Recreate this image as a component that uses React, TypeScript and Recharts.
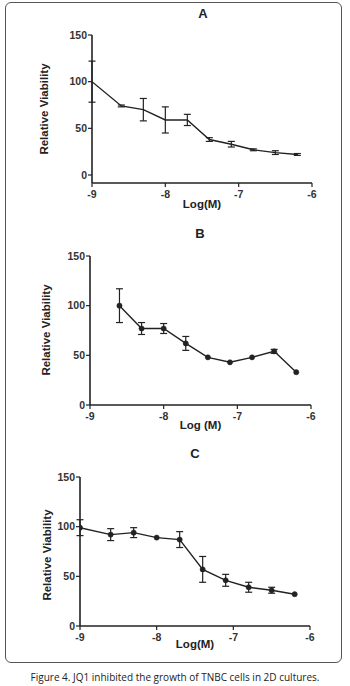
import { LineChart, Line, XAxis, YAxis, ErrorBar } from 'recharts'

// doses on log scale, viability means and error (SD)
const X_TICKS = [-9, -8, -7, -6]
const Y_TICKS = [0, 50, 100, 150]

const DOSE_A = [-9, -8.6, -8.3, -8, -7.7, -7.4, -7.1, -6.8, -6.5, -6.2]
const MEAN_A = [100, 74, 70, 59, 59, 38, 33, 27, 24, 22]
const SD_A = [22, 1, 12, 14, 6, 2, 3, 1, 2, 1]

const DOSE_B = [-8.6, -8.3, -8, -7.7, -7.4, -7.1, -6.8, -6.5, -6.2]
const MEAN_B = [100, 77, 77, 62, 48, 43, 48, 54, 33]
const SD_B = [17, 6, 5, 7, 0, 0, 0, 2, 0]

const DOSE_C = [-9, -8.6, -8.3, -8, -7.7, -7.4, -7.1, -6.8, -6.5, -6.2]
const MEAN_C = [99, 92, 94, 89, 87, 57, 46, 39, 36, 32]
const SD_C = [8, 6, 5, 0, 8, 13, 6, 5, 3, 0]

const FONT = '"Liberation Sans", Arial, Helvetica, sans-serif'
const INK = '#222'

const rows = (dose: number[], mean: number[], sd: number[]) =>
  dose.map((d, i) => ({ dose: d, mean: mean[i], sd: sd[i] }))

interface PanelProps {
  title: string
  titleX: number
  data: { dose: number; mean: number; sd: number }[]
  top: number
  height: number
  left: number
  right: number
  plotTop: number
  plotBottom: number
  yMin: number
  xLabel: string
  xLabelX: number
  dots: boolean
}

function Panel(p: PanelProps) {
  const W = 350
  return (
    <div style={{ position: 'absolute', left: 0, top: p.top, width: W, height: p.height }}>
      <div
        style={{
          position: 'absolute',
          left: p.titleX - 20,
          width: 40,
          top: 6,
          textAlign: 'center',
          fontFamily: FONT,
          fontWeight: 700,
          fontSize: 13,
          color: INK,
          lineHeight: '16px',
        }}
      >
        {p.title}
      </div>
      <LineChart
        width={W}
        height={p.height}
        data={p.data}
        margin={{ top: p.plotTop, right: W - p.right, left: 0, bottom: 0 }}
      >
        <XAxis
          dataKey="dose"
          type="number"
          domain={[-9, -6]}
          ticks={X_TICKS}
          interval={0}
          allowDataOverflow
          height={p.height - p.plotBottom}
          axisLine={{ stroke: INK, strokeWidth: 1.6 }}
          tickLine={{ stroke: INK, strokeWidth: 1.2 }}
          tickSize={4}
          tickMargin={4}
          tick={{ fontSize: 10.5, fontWeight: 700, fill: '#333', fontFamily: FONT }}
          label={
            <text
              x={p.xLabelX}
              y={214}
              textAnchor="middle"
              dominantBaseline="central"
              fontFamily={FONT}
              fontWeight={700}
              fontSize={11.5}
              fill={INK}
            >
              {p.xLabel}
            </text>
          }
        />
        <YAxis
          type="number"
          domain={[p.yMin, 150]}
          ticks={Y_TICKS}
          interval={0}
          allowDataOverflow
          width={p.left}
          axisLine={{ stroke: INK, strokeWidth: 1.6 }}
          tickLine={{ stroke: INK, strokeWidth: 1.2 }}
          tickSize={4}
          tickMargin={1}
          tick={{ fontSize: 10.5, fontWeight: 700, fill: '#333', fontFamily: FONT }}
          label={
            <text
              x={45}
              y={110}
              transform="rotate(-90 45 110)"
              textAnchor="middle"
              dominantBaseline="central"
              fontFamily={FONT}
              fontWeight={700}
              fontSize={11.5}
              fill={INK}
            >
              Relative Viability
            </text>
          }
        />
        <Line
          type="linear"
          dataKey="mean"
          stroke={INK}
          strokeWidth={1.4}
          dot={p.dots ? { r: 2.6, fill: INK, stroke: INK, strokeWidth: 0.5 } : false}
          isAnimationActive={false}
        >
          <ErrorBar dataKey="sd" direction="y" width={3.5} stroke={INK} strokeWidth={1.2} />
        </Line>
      </LineChart>
    </div>
  )
}

export default function App() {
  return (
    <div style={{ position: 'relative', width: 350, height: 686, background: '#fff', overflow: 'hidden' }}>
      <style>{'body{margin:0}'}</style>
      <div
        style={{
          position: 'absolute',
          left: 5,
          top: 2,
          width: 337,
          height: 661,
          border: '1.5px solid #555',
          borderRadius: 6,
          boxSizing: 'border-box',
        }}
      />
      <Panel
        title="A"
        titleX={203}
        data={rows(DOSE_A, MEAN_A, SD_A)}
        top={0}
        height={225}
        left={92}
        right={312}
        plotTop={35}
        plotBottom={183}
        yMin={-8.57}
        xLabel="Log(M)"
        xLabelX={202}
        dots={false}
      />
      <Panel
        title="B"
        titleX={200}
        data={rows(DOSE_B, MEAN_B, SD_B)}
        top={220}
        height={225}
        left={90}
        right={311}
        plotTop={36}
        plotBottom={185}
        yMin={0}
        xLabel="Log (M)"
        xLabelX={200}
        dots
      />
      <Panel
        title="C"
        titleX={195}
        data={rows(DOSE_C, MEAN_C, SD_C)}
        top={440}
        height={222}
        left={80}
        right={310}
        plotTop={37}
        plotBottom={186}
        yMin={0}
        xLabel="Log(M)"
        xLabelX={197}
        dots
      />
      <div
        style={{
          position: 'absolute',
          left: 0,
          width: 350,
          top: 670,
          textAlign: 'center',
          fontFamily: '"Open Sans", "Noto Sans", sans-serif',
          fontSize: 10,
          lineHeight: '14px',
          color: '#222',
        }}
      >
        Figure 4. JQ1 inhibited the growth of TNBC cells in 2D cultures.
      </div>
    </div>
  )
}
